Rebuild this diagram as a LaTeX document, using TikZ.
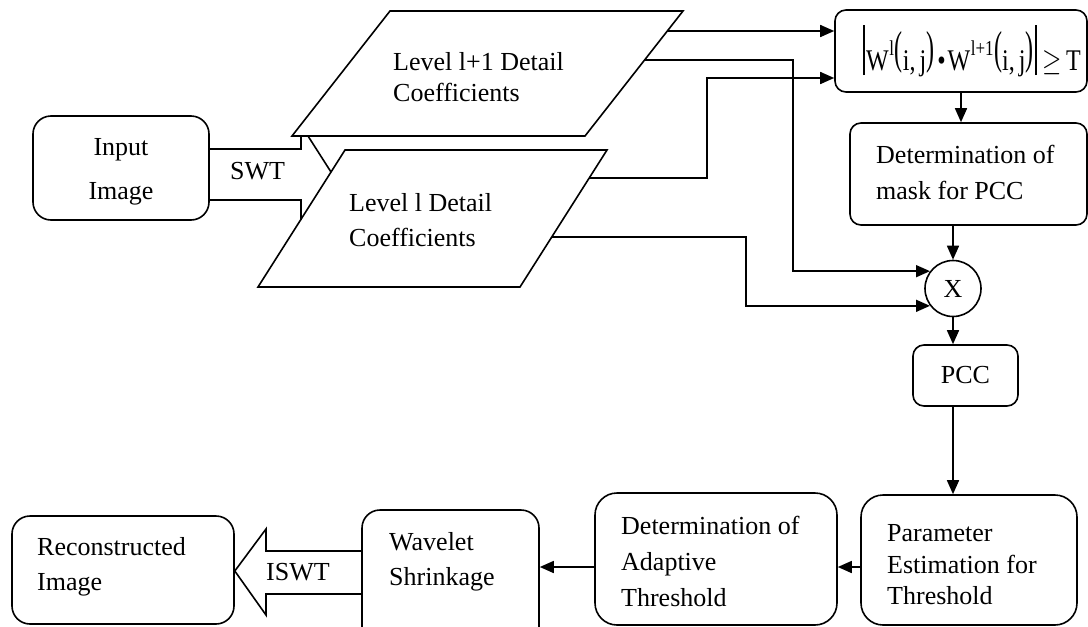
\documentclass[tikz,border=0pt]{standalone}
\usepackage{graphicx}
\usepackage{fontspec}
\setmainfont{Liberation Serif}
\usetikzlibrary{arrows.meta,calc}
\newcommand{\myparen}[1]{\raisebox{0.21em}{\scalebox{1}[1.54]{#1}}}
\newcommand{\mybar}{\rule[-0.17em]{1.4pt}{1.67em}}
\newcommand{\mysup}[1]{\raisebox{0.5em}{\fontsize{17}{17}\selectfont #1}}
\tikzset{
 box/.style={draw, line width=1.6pt, rounded corners=18pt, inner sep=0pt},
 sbox/.style={box, rounded corners=11pt},
 txt/.style={inner sep=0pt, align=left, anchor=north west, font={\fontsize{26}{#1}\selectfont}},
 txt/.default=31,
 ctxt/.style={inner sep=0pt, align=center, font={\fontsize{26}{#1}\selectfont}},
 ctxt/.default=31,
 arr/.style={line width=1.6pt, -{Triangle[length=14pt,width=12pt]}},
 ln/.style={line width=1.6pt, line join=miter},
}
\begin{document}
\begin{tikzpicture}[x=1pt,y=-1pt]
\useasboundingbox (0,0) rectangle (1088,627);
\fill[white] (0,0) rectangle (1088,627);
\clip (0,0) rectangle (1088,627);

% boxes
\node[box, minimum width=176, minimum height=104] (input) at (121,168) {};
\node[sbox, minimum width=252, minimum height=82] (formula) at (961,51) {};
\node[sbox, minimum width=237, minimum height=102] (mask) at (968.5,174) {};
\node[draw, line width=1.6pt, circle, minimum size=56, inner sep=0pt, font={\fontsize{26}{31}\selectfont}] (X) at (953,288.5) {X};
\node[sbox, minimum width=105, minimum height=61, font={\fontsize{26}{31}\selectfont}] (pcc) at (965.5,375.5) {PCC};
\node[box, rounded corners=22pt, minimum width=216, minimum height=130] (param) at (969,560) {};
\node[box, rounded corners=22pt, minimum width=242, minimum height=132] (det) at (716,559) {};
\node[box, minimum width=177, minimum height=137] (wavelet) at (450.5,578.5) {};
\node[box, minimum width=222, minimum height=108] (recon) at (123,570) {};

% texts
\node[ctxt=44, anchor=north] (inputtxt) at (121,138.5) {Input\\Image};
\node[txt=36] (masktxt) at (876,144.5) {Determination of\\mask for PCC};
\node[txt=31.5] (paramtxt) at (887,524.5) {Parameter\\Estimation for\\Threshold};
\node[txt=36] (dettxt) at (621,515.5) {Determination of\\Adaptive\\Threshold};
\node[txt=35] (wavtxt) at (389,532.5) {Wavelet\\Shrinkage};
\node[txt=35] (recontxt) at (37,537.5) {Reconstructed\\Image};
\node[inner sep=0pt, anchor=base west, font={\fontsize{26}{31}\selectfont}] (swt) at (230,179) {SWT};
\node[inner sep=0pt, anchor=base west, font={\fontsize{26}{31}\selectfont}] (iswt) at (266,580) {ISWT};
\node[inner sep=0pt, anchor=base west, font={\fontsize{24}{28}\selectfont}] (ftxt) at (863,70)
 {\scalebox{1}[1.25]{\mybar\kern1.5pt W\kern0.5pt\mysup{l}\kern1pt\myparen{(}i,\,j\myparen{)}\kern3pt\textbullet\kern2pt W\kern0.5pt\mysup{l+1}\kern0.5pt\myparen{(}i,\,j\myparen{)}\kern2pt\mybar\kern6pt$\geq$\kern4pt T}};

% parallelograms
\coordinate (p1bl) at (292,136); \coordinate (p1br) at (585,136);
\coordinate (p1tr) at (683,11);  \coordinate (p1tl) at (390,11);
\coordinate (p2bl) at (258,287); \coordinate (p2br) at (520,287);
\coordinate (p2tr) at (607,150); \coordinate (p2tl) at (345,150);
\draw[ln] (p1bl) -- (p1br) -- (p1tr) -- (p1tl) -- cycle;
\draw[ln] (p2bl) -- (p2br) -- (p2tr) -- (p2tl) -- cycle;
\node[txt=31] (lvl1txt) at (393,52.2) {Level l+1 Detail\\Coefficients};
\node[txt=35] (lvl0txt) at (349,193.2) {Level l Detail\\Coefficients};

% SWT fork
\draw[ln] (input.east |- 0,149) -- (301,149) -- (301,136);
\draw[ln] (308,136) -- (331,172);
\draw[ln] (input.east |- 0,200) -- (301,200) -- (301,220);

% connectors from coefficient sets
\coordinate (c1) at ($(p1br)!0.84!(p1tr)$);
\coordinate (c2) at ($(p1br)!0.608!(p1tr)$);
\coordinate (c3) at ($(p2br)!0.796!(p2tr)$);
\coordinate (c4) at ($(p2br)!0.365!(p2tr)$);
\coordinate (v1) at (793,0);
\coordinate (v2) at (707,78);
\coordinate (v3) at (746,0);
\draw[arr] (c1) -- (c1 -| formula.west);
\draw[arr] (c2) -| (v1 |- X.143) -- (X.143);
\draw[arr] (c3) -| (v2) -- (v2 -| formula.west);
\draw[arr] (c4) -| (v3 |- X.217) -- (X.217);

% right column
\draw[arr] (formula.south) -- (formula.south |- mask.north);
\draw[arr] (X |- mask.south) -- (X.north);
\draw[arr] (X.south) -- (X.south |- pcc.north);
\draw[arr] (X |- pcc.south) -- (X |- param.north);

% bottom row
\coordinate (hrow) at (0,567);
\draw[arr] (param.west |- hrow) -- (det.east |- hrow);
\draw[arr] (det.west |- hrow) -- (wavelet.east |- hrow);

% ISWT block arrow
\draw[ln] (wavelet.west |- 0,551) -- (266,551) -- (266,529) -- (recon.east |- 0,571)
  -- (266,615) -- (266,594) -- (wavelet.west |- 0,594);
\end{tikzpicture}
\end{document}
